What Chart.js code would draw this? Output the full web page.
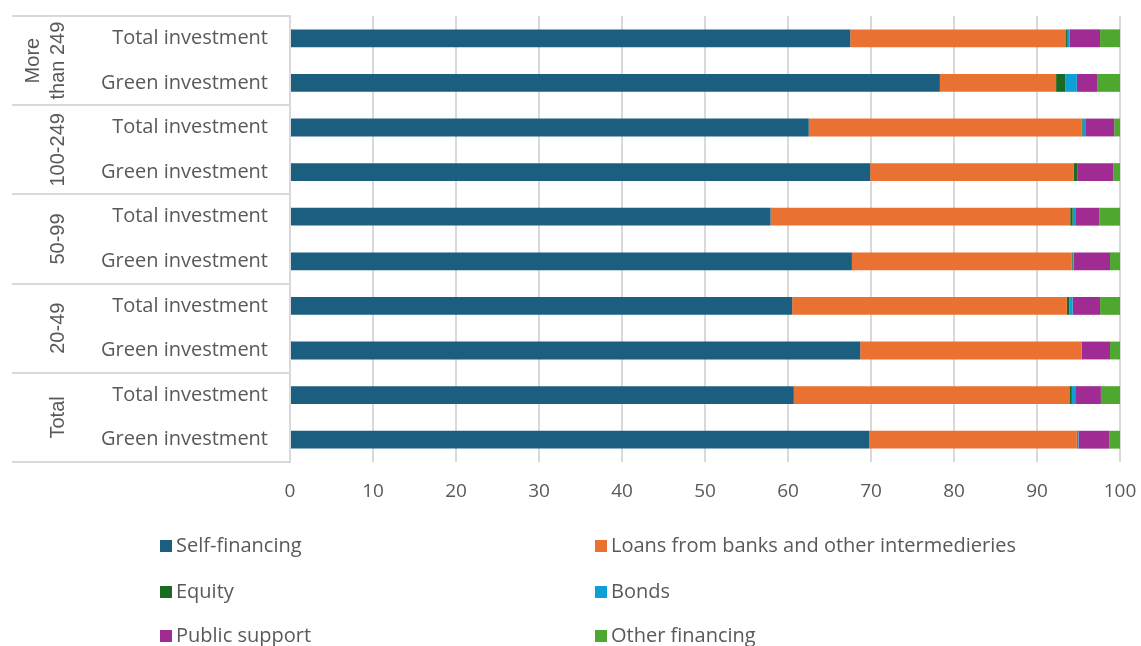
<!DOCTYPE html>
<html>
<head>
<meta charset="utf-8">
<title>Investment financing by firm size</title>
<script src="https://cdn.jsdelivr.net/npm/chart.js@4/dist/chart.umd.min.js"></script>
<style>
  html, body { margin: 0; padding: 0; background: #fff; }
  #wrap { width: 1141px; height: 646px; position: relative; }
</style>
</head>
<body>
<div id="wrap"><canvas id="financeChart"></canvas></div>
<script>
"use strict";

// rows, top to bottom
const rowLabels = [
  "Total investment", "Green investment",
  "Total investment", "Green investment",
  "Total investment", "Green investment",
  "Total investment", "Green investment",
  "Total investment", "Green investment",
];
// size classes, each spanning two rows
const groupLabels = [["More", "than 249"], ["100-249"], ["50-99"], ["20-49"], ["Total"]];

const xTicks = [0, 10, 20, 30, 40, 50, 60, 70, 80, 90, 100];

const seriesNames = [
  "Self-financing",
  "Loans from banks and other intermedieries",
  "Equity",
  "Bonds",
  "Public support",
  "Other financing",
];
const seriesColors = ["#1b5e80", "#e97132", "#196b24", "#0f9ed5", "#a02b93", "#4ea72e"];

const selfFinancing = [67.5, 78.3, 62.5, 69.9, 57.9, 67.7, 60.5, 68.7, 60.7, 69.8];
const bankLoans     = [26.0, 14.0, 32.9, 24.5, 36.1, 26.5, 33.1, 26.7, 33.2, 25.0];
const equity        = [0.2, 1.1, 0.1, 0.5, 0.3, 0.1, 0.3, 0.0, 0.3, 0.1];
const bonds         = [0.2, 1.4, 0.4, 0.0, 0.4, 0.1, 0.4, 0.0, 0.4, 0.1];
const publicSupport = [3.7, 2.5, 3.4, 4.3, 2.8, 4.4, 3.3, 3.4, 3.1, 3.7];
const otherFinance  = [2.4, 2.7, 0.7, 0.8, 2.5, 1.2, 2.4, 1.2, 2.3, 1.3];

const seriesValues = [selfFinancing, bankLoans, equity, bonds, publicSupport, otherFinance];

const TEXT = "#595959";
const LINE = "#d9d9d9";
const FONT = "'Open Sans', 'Noto Sans', sans-serif";

// size-class labels and the separator lines on the left
const groupAxis = {
  id: "groupAxis",
  afterDraw(chart) {
    const ctx = chart.ctx;
    const y = chart.scales.y;
    const left = 12;
    const right = chart.chartArea.left;
    const pitch = y.getPixelForValue(1) - y.getPixelForValue(0);
    ctx.save();
    ctx.strokeStyle = LINE;
    ctx.lineWidth = 2;
    for (let g = 0; g <= groupLabels.length; g++) {
      const yy = Math.round(y.getPixelForValue(g * 2) - pitch / 2);
      ctx.beginPath();
      ctx.moveTo(left, yy);
      ctx.lineTo(right, yy);
      ctx.stroke();
    }
    ctx.fillStyle = TEXT;
    ctx.font = "20px 'Liberation Sans', Arial, sans-serif";
    ctx.textAlign = "center";
    ctx.textBaseline = "middle";
    groupLabels.forEach((lines, g) => {
      const cy = (y.getPixelForValue(g * 2) + y.getPixelForValue(g * 2 + 1)) / 2;
      lines.forEach((txt, i) => {
        const cx = 58 - (lines.length - 1 - i) * 25;
        ctx.save();
        ctx.translate(cx, cy);
        ctx.rotate(-Math.PI / 2);
        ctx.fillText(txt, 0, 0);
        ctx.restore();
      });
    });
    ctx.restore();
  },
};

// two-column legend under the axis
const columnLegend = {
  id: "columnLegend",
  afterDraw(chart) {
    const ctx = chart.ctx;
    const colX = [160, 595];
    const rowY = [546, 592, 636];
    ctx.save();
    ctx.font = "20px " + FONT;
    ctx.textBaseline = "middle";
    ctx.textAlign = "left";
    chart.data.datasets.forEach((ds, i) => {
      const x = colX[i % 2];
      const yy = rowY[Math.floor(i / 2)];
      ctx.fillStyle = ds.backgroundColor;
      ctx.fillRect(x, yy - 6, 12, 12);
      ctx.fillStyle = TEXT;
      ctx.fillText(ds.label, x + 16, yy);
    });
    ctx.restore();
  },
};

const datasets = seriesNames.map((name, i) => ({
  label: name,
  data: seriesValues[i],
  backgroundColor: seriesColors[i],
  borderWidth: 0,
  categoryPercentage: 1,
  barPercentage: 0.4,
}));

new Chart(document.getElementById("financeChart"), {
  type: "bar",
  data: { labels: rowLabels, datasets: datasets },
  plugins: [groupAxis, columnLegend],
  options: {
    indexAxis: "y",
    responsive: true,
    maintainAspectRatio: false,
    animation: false,
    layout: { padding: { top: 16, right: 21, left: 0, bottom: 0 } },
    plugins: {
      legend: { display: false },
      tooltip: { enabled: false },
    },
    scales: {
      x: {
        stacked: true,
        min: 0,
        max: 100,
        afterBuildTicks(scale) {
          scale.ticks = xTicks.map((v) => ({ value: v }));
        },
        afterFit(scale) {
          scale.height = 184;
          scale.paddingLeft = 0;
          scale.paddingRight = 0;
        },
        grid: { color: LINE, lineWidth: 2, drawTicks: false },
        border: { display: false },
        ticks: {
          color: TEXT,
          font: { family: FONT, size: 19 },
          padding: 18,
        },
      },
      y: {
        stacked: true,
        afterFit(scale) {
          scale.width = 290;
          scale.paddingTop = 0;
          scale.paddingBottom = 0;
        },
        grid: { display: false, drawTicks: false },
        border: { display: true, color: LINE, width: 2 },
        ticks: {
          color: TEXT,
          font: { family: FONT, size: 20 },
          padding: 22,
        },
      },
    },
  },
});
</script>
</body>
</html>
